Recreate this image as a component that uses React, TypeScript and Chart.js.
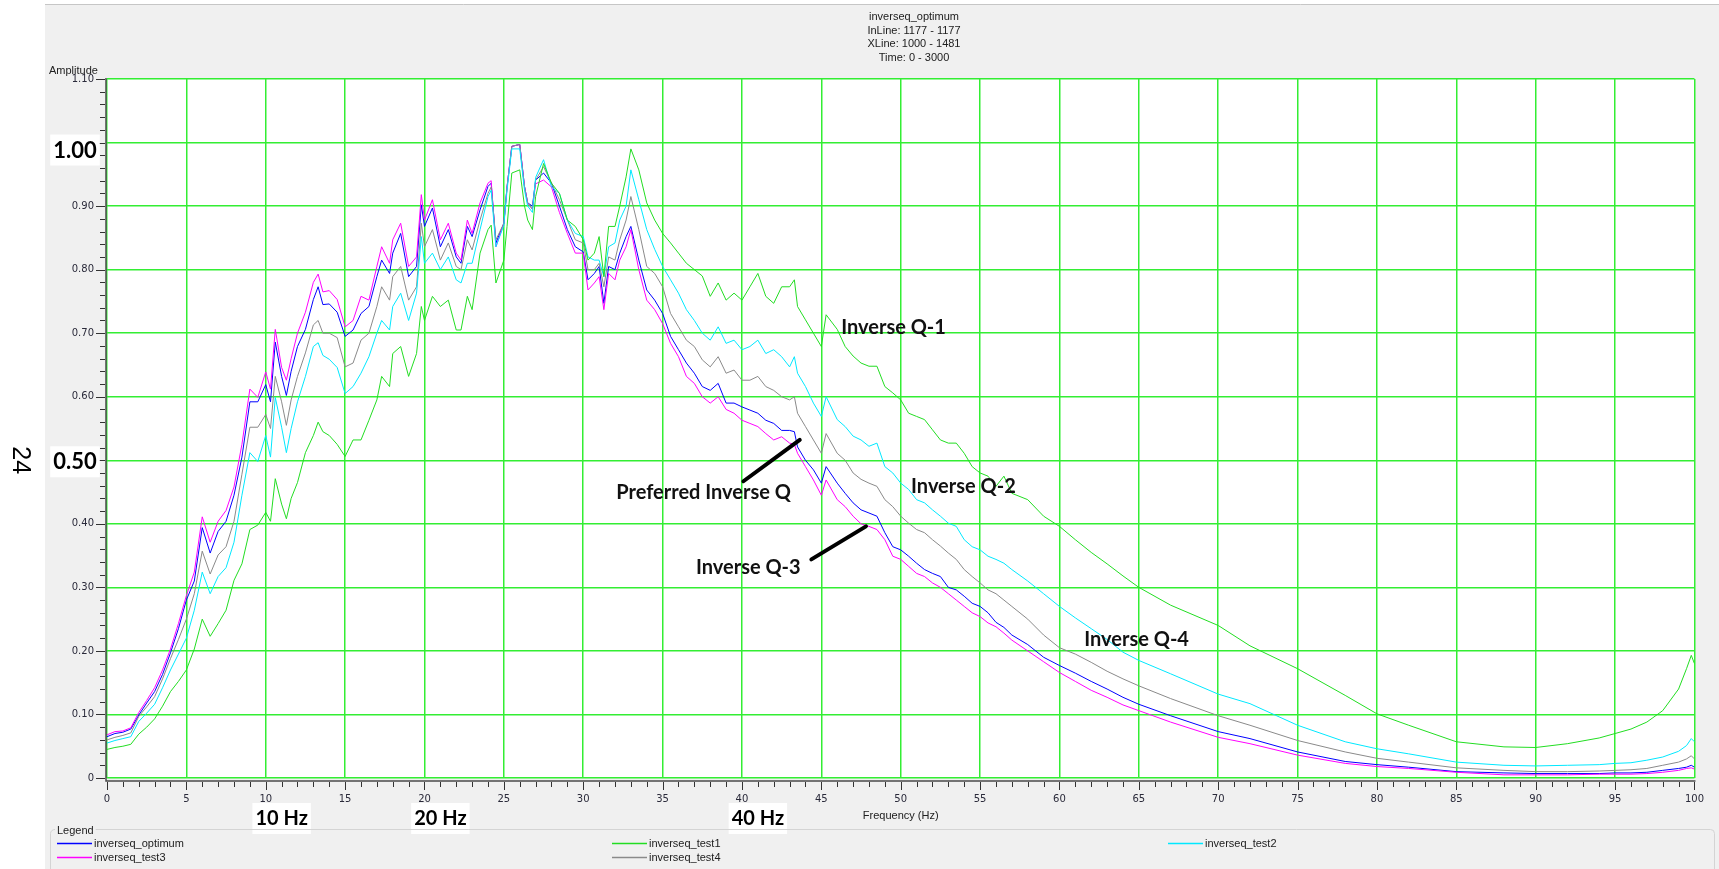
import React, { useEffect, useRef } from 'react';
import { Chart, registerables } from 'chart.js';

Chart.register(...registerables);

// frequency samples (Hz) shared by all five spectra
const frequency = [
  0, 0.5, 1, 1.5, 2, 2.5, 3, 3.5, 4, 4.5,
  5, 5.5, 6, 6.5, 7, 7.5, 8, 8.5, 9, 9.5,
  10, 10.3, 10.6, 11, 11.3, 11.6, 12, 12.5, 13, 13.3,
  13.6, 14, 14.5, 15, 15.5, 16, 16.5, 17, 17.3, 17.8,
  18, 18.5, 19, 19.5, 19.8, 20, 20.5, 21, 21.5, 22,
  22.3, 22.7, 23, 23.5, 24, 24.2, 24.5, 25, 25.2, 25.5,
  26, 26.3, 26.5, 26.8, 27, 27.5, 28, 28.5, 29, 29.5,
  30, 30.3, 30.7, 31, 31.3, 31.6, 32, 32.3, 32.7, 33,
  33.5, 34, 34.5, 35, 35.5, 36, 36.5, 37, 37.5, 38,
  38.5, 39, 39.5, 40, 40.5, 41, 41.5, 42, 42.5, 43,
  43.3, 43.5, 44, 44.5, 45, 45.3, 46, 46.5, 47, 47.5,
  48, 48.5, 49, 49.5, 50, 50.5, 51, 51.5, 52, 52.5,
  53, 53.5, 54, 54.5, 55, 55.5, 56, 56.5, 57, 58,
  59, 60, 61, 62, 63, 64, 65, 67, 70, 72,
  75, 78, 80, 82, 85, 88, 90, 92, 94, 95,
  96, 97, 98, 99, 99.5, 99.8, 100,
];

const optimum = [
  0.065, 0.070, 0.072, 0.077, 0.099, 0.118, 0.136, 0.163, 0.197, 0.235,
  0.280, 0.310, 0.394, 0.354, 0.388, 0.404, 0.445, 0.505, 0.592, 0.592,
  0.619, 0.592, 0.686, 0.632, 0.602, 0.640, 0.679, 0.706, 0.753, 0.773,
  0.745, 0.746, 0.733, 0.695, 0.705, 0.731, 0.742, 0.789, 0.815, 0.794,
  0.826, 0.857, 0.789, 0.805, 0.902, 0.868, 0.897, 0.836, 0.863, 0.820,
  0.810, 0.868, 0.852, 0.894, 0.931, 0.936, 0.842, 0.873, 0.930, 0.994,
  0.997, 0.931, 0.905, 0.900, 0.941, 0.952, 0.936, 0.900, 0.863, 0.836,
  0.828, 0.784, 0.794, 0.805, 0.747, 0.805, 0.800, 0.826, 0.852, 0.868,
  0.815, 0.768, 0.752, 0.731, 0.695, 0.674, 0.653, 0.637, 0.616, 0.610,
  0.621, 0.590, 0.590, 0.584, 0.579, 0.574, 0.563, 0.558, 0.547, 0.547,
  0.545, 0.521, 0.500, 0.485, 0.464, 0.490, 0.464, 0.448, 0.433, 0.422,
  0.417, 0.412, 0.386, 0.364, 0.359, 0.349, 0.338, 0.328, 0.322, 0.317,
  0.300, 0.296, 0.286, 0.275, 0.270, 0.260, 0.245, 0.237, 0.225, 0.210,
  0.190, 0.177, 0.165, 0.152, 0.140, 0.127, 0.116, 0.098, 0.073, 0.062,
  0.041, 0.026, 0.021, 0.017, 0.010, 0.008, 0.007, 0.007, 0.007, 0.008,
  0.008, 0.009, 0.012, 0.015, 0.017, 0.020, 0.017,
];

const test1 = [
  0.045, 0.048, 0.050, 0.053, 0.069, 0.080, 0.093, 0.113, 0.136, 0.152,
  0.170, 0.203, 0.250, 0.223, 0.243, 0.264, 0.311, 0.337, 0.391, 0.398,
  0.418, 0.404, 0.471, 0.431, 0.408, 0.440, 0.465, 0.512, 0.539, 0.560,
  0.545, 0.539, 0.525, 0.506, 0.532, 0.532, 0.563, 0.595, 0.632, 0.616,
  0.668, 0.679, 0.632, 0.668, 0.742, 0.720, 0.758, 0.742, 0.752, 0.705,
  0.705, 0.758, 0.737, 0.826, 0.863, 0.870, 0.779, 0.815, 0.868, 0.952,
  0.957, 0.900, 0.878, 0.863, 0.915, 0.967, 0.936, 0.920, 0.878, 0.868,
  0.847, 0.815, 0.826, 0.852, 0.789, 0.868, 0.868, 0.900, 0.946, 0.990,
  0.957, 0.905, 0.878, 0.857, 0.842, 0.826, 0.810, 0.800, 0.790, 0.758,
  0.779, 0.752, 0.763, 0.752, 0.773, 0.794, 0.758, 0.747, 0.773, 0.773,
  0.784, 0.742, 0.721, 0.700, 0.679, 0.729, 0.706, 0.679, 0.664, 0.653,
  0.648, 0.648, 0.616, 0.606, 0.595, 0.574, 0.569, 0.564, 0.548, 0.532,
  0.527, 0.527, 0.511, 0.490, 0.480, 0.475, 0.459, 0.475, 0.448, 0.438,
  0.412, 0.396, 0.375, 0.355, 0.337, 0.318, 0.300, 0.272, 0.240, 0.208,
  0.172, 0.130, 0.101, 0.083, 0.057, 0.049, 0.048, 0.054, 0.063, 0.070,
  0.077, 0.088, 0.106, 0.140, 0.172, 0.193, 0.180,
];

const test2 = [
  0.055, 0.059, 0.062, 0.065, 0.089, 0.102, 0.116, 0.142, 0.170, 0.195,
  0.220, 0.264, 0.324, 0.290, 0.317, 0.331, 0.371, 0.445, 0.512, 0.498,
  0.539, 0.505, 0.599, 0.552, 0.512, 0.550, 0.592, 0.632, 0.679, 0.685,
  0.665, 0.659, 0.646, 0.605, 0.616, 0.637, 0.663, 0.700, 0.720, 0.705,
  0.742, 0.763, 0.720, 0.763, 0.852, 0.810, 0.826, 0.800, 0.820, 0.784,
  0.779, 0.810, 0.810, 0.863, 0.915, 0.925, 0.836, 0.870, 0.925, 0.990,
  0.990, 0.925, 0.900, 0.890, 0.945, 0.973, 0.930, 0.920, 0.878, 0.857,
  0.852, 0.820, 0.815, 0.815, 0.789, 0.836, 0.842, 0.878, 0.900, 0.957,
  0.910, 0.863, 0.832, 0.805, 0.784, 0.763, 0.737, 0.720, 0.700, 0.689,
  0.710, 0.684, 0.689, 0.674, 0.679, 0.689, 0.668, 0.674, 0.663, 0.647,
  0.663, 0.637, 0.616, 0.590, 0.569, 0.600, 0.564, 0.553, 0.538, 0.532,
  0.522, 0.527, 0.490, 0.480, 0.464, 0.454, 0.438, 0.433, 0.422, 0.412,
  0.401, 0.396, 0.375, 0.364, 0.359, 0.349, 0.344, 0.338, 0.328, 0.310,
  0.290, 0.270, 0.252, 0.235, 0.218, 0.198, 0.185, 0.164, 0.132, 0.117,
  0.083, 0.057, 0.046, 0.038, 0.025, 0.020, 0.019, 0.020, 0.021, 0.023,
  0.024, 0.028, 0.033, 0.042, 0.051, 0.062, 0.057,
];

const test3 = [
  0.068, 0.073, 0.074, 0.079, 0.103, 0.122, 0.142, 0.170, 0.203, 0.243,
  0.287, 0.324, 0.411, 0.371, 0.404, 0.421, 0.458, 0.525, 0.612, 0.599,
  0.639, 0.612, 0.706, 0.646, 0.626, 0.660, 0.700, 0.733, 0.780, 0.793,
  0.765, 0.767, 0.753, 0.710, 0.720, 0.758, 0.752, 0.805, 0.836, 0.810,
  0.847, 0.873, 0.805, 0.820, 0.918, 0.878, 0.910, 0.847, 0.873, 0.826,
  0.815, 0.878, 0.857, 0.905, 0.936, 0.940, 0.836, 0.873, 0.930, 0.994,
  0.997, 0.931, 0.905, 0.895, 0.935, 0.941, 0.930, 0.890, 0.857, 0.826,
  0.826, 0.768, 0.779, 0.789, 0.737, 0.794, 0.784, 0.815, 0.836, 0.863,
  0.800, 0.752, 0.737, 0.715, 0.684, 0.663, 0.632, 0.621, 0.600, 0.590,
  0.600, 0.580, 0.574, 0.563, 0.558, 0.553, 0.542, 0.532, 0.537, 0.527,
  0.525, 0.511, 0.490, 0.469, 0.445, 0.469, 0.438, 0.427, 0.412, 0.400,
  0.396, 0.391, 0.375, 0.349, 0.344, 0.333, 0.322, 0.317, 0.307, 0.300,
  0.290, 0.280, 0.270, 0.260, 0.254, 0.244, 0.238, 0.228, 0.217, 0.200,
  0.183, 0.166, 0.152, 0.138, 0.127, 0.115, 0.106, 0.088, 0.064, 0.054,
  0.036, 0.023, 0.018, 0.015, 0.009, 0.005, 0.005, 0.005, 0.006, 0.006,
  0.006, 0.007, 0.009, 0.012, 0.015, 0.016, 0.014,
];

const test4 = [
  0.060, 0.064, 0.067, 0.071, 0.097, 0.112, 0.128, 0.156, 0.188, 0.218,
  0.250, 0.290, 0.357, 0.321, 0.351, 0.364, 0.404, 0.478, 0.552, 0.552,
  0.572, 0.550, 0.632, 0.592, 0.555, 0.595, 0.632, 0.669, 0.713, 0.720,
  0.700, 0.700, 0.693, 0.647, 0.653, 0.689, 0.700, 0.742, 0.773, 0.752,
  0.789, 0.805, 0.752, 0.773, 0.873, 0.836, 0.863, 0.815, 0.842, 0.805,
  0.800, 0.847, 0.831, 0.878, 0.920, 0.930, 0.847, 0.873, 0.930, 0.994,
  0.997, 0.930, 0.905, 0.895, 0.941, 0.962, 0.936, 0.910, 0.878, 0.847,
  0.842, 0.800, 0.800, 0.810, 0.773, 0.820, 0.815, 0.847, 0.878, 0.915,
  0.863, 0.805, 0.794, 0.773, 0.731, 0.710, 0.689, 0.679, 0.658, 0.647,
  0.663, 0.637, 0.642, 0.626, 0.626, 0.632, 0.616, 0.610, 0.600, 0.595,
  0.600, 0.574, 0.553, 0.532, 0.511, 0.542, 0.511, 0.500, 0.480, 0.470,
  0.464, 0.459, 0.438, 0.427, 0.412, 0.401, 0.391, 0.386, 0.375, 0.365,
  0.354, 0.344, 0.328, 0.317, 0.307, 0.296, 0.290, 0.280, 0.270, 0.250,
  0.225, 0.205, 0.195, 0.182, 0.168, 0.156, 0.145, 0.125, 0.098, 0.083,
  0.059, 0.041, 0.031, 0.025, 0.016, 0.012, 0.010, 0.010, 0.011, 0.012,
  0.013, 0.015, 0.020, 0.025, 0.030, 0.035, 0.030,
];

const titleLines = ['inverseq_optimum', 'InLine: 1177 - 1177', 'XLine: 1000 - 1481', 'Time: 0 - 3000'];

// legend columns as in the original viewer: optimum/test3, test1/test4, test2
const series = [
  { label: 'inverseq_test1', data: test1, color: '#22dd22', col: 1, row: 0 },
  { label: 'inverseq_test2', data: test2, color: '#00e8ff', col: 2, row: 0 },
  { label: 'inverseq_test4', data: test4, color: '#8a8a8a', col: 1, row: 1 },
  { label: 'inverseq_test3', data: test3, color: '#ff00ff', col: 0, row: 1 },
  { label: 'inverseq_optimum', data: optimum, color: '#0000ff', col: 0, row: 0 },
];

// hand-written notes on the plot (x in Hz, y in amplitude)
const notes = [
  { text: 'Inverse Q-1', x: 46.25, y: 0.709 },
  { text: 'Inverse Q-2', x: 50.65, y: 0.459 },
  { text: 'Preferred Inverse Q', x: 32.08, y: 0.449 },
  { text: 'Inverse Q-3', x: 37.1, y: 0.331 },
  { text: 'Inverse Q-4', x: 61.56, y: 0.218 },
];
const pointers = [
  { x1: 40.09, y1: 0.467, x2: 43.64, y2: 0.532 },
  { x1: 44.37, y1: 0.344, x2: 47.81, y2: 0.396 },
];
const hzNotes = [
  { text: '10 Hz', x: 11 },
  { text: '20 Hz', x: 21 },
  { text: '40 Hz', x: 41 },
];
const boldTicks = [1.0, 0.5];

const GRID = '#33ee33';
const SMALL = '11px "Liberation Sans", Arial, sans-serif';

function boxedText(ctx, text, cx, cy, font) {
  ctx.font = font;
  const w = ctx.measureText(text).width;
  ctx.fillStyle = '#ffffff';
  ctx.fillRect(cx - w / 2 - 3, cy - 15, w + 6, 31);
  ctx.fillStyle = '#000000';
  ctx.textAlign = 'center';
  ctx.textBaseline = 'middle';
  ctx.fillText(text, cx, cy + 1);
}

const decorPlugin = {
  id: 'decor',
  beforeDraw(chart) {
    const { ctx, width, height, chartArea: a } = chart;
    ctx.save();
    ctx.fillStyle = '#ffffff';
    ctx.fillRect(0, 0, width, height);
    ctx.fillStyle = '#f0f0f0';
    ctx.fillRect(45, 4, width - 45, height - 4);
    ctx.strokeStyle = '#c6c6c6';
    ctx.lineWidth = 1;
    ctx.beginPath();
    ctx.moveTo(45, 4.5);
    ctx.lineTo(width, 4.5);
    ctx.stroke();
    ctx.fillStyle = '#ffffff';
    ctx.fillRect(a.left, a.top, a.right - a.left, a.bottom - a.top);
    ctx.restore();
  },
  afterDraw(chart) {
    const { ctx, chartArea: a, scales } = chart;
    const xs = scales.x;
    const ys = scales.y;
    ctx.save();

    // axis lines and tick marks
    ctx.strokeStyle = '#4a4a4a';
    ctx.lineWidth = 1.5;
    ctx.beginPath();
    ctx.moveTo(a.left - 1, a.top - 1);
    ctx.lineTo(a.left - 1, a.bottom + 3);
    ctx.lineTo(a.right + 1, a.bottom + 3);
    ctx.stroke();
    ctx.lineWidth = 1;
    ctx.strokeStyle = '#333333';
    for (let i = 0; i <= 55; i++) {
      const y = Math.round(ys.getPixelForValue(i * 0.02)) + 0.5;
      const len = i % 5 === 0 ? 9 : 5;
      ctx.beginPath();
      ctx.moveTo(a.left - 2 - len, y);
      ctx.lineTo(a.left - 2, y);
      ctx.stroke();
    }
    for (let i = 0; i <= 100; i++) {
      const x = Math.round(xs.getPixelForValue(i)) + 0.5;
      const len = i % 5 === 0 ? 8 : 5;
      ctx.beginPath();
      ctx.moveTo(x, a.bottom + 4);
      ctx.lineTo(x, a.bottom + 4 + len);
      ctx.stroke();
    }

    // title block
    ctx.fillStyle = '#202020';
    ctx.font = SMALL;
    ctx.textAlign = 'center';
    ctx.textBaseline = 'middle';
    titleLines.forEach((t, i) => ctx.fillText(t, 914, 17 + i * 13.6));

    // axis titles
    ctx.textAlign = 'left';
    ctx.fillText('Amplitude', 49, 71);
    ctx.textAlign = 'center';
    ctx.fillText('Frequency (Hz)', (a.left + a.right) / 2, 816);

    // enlarged tick labels pasted on the y axis
    boldTicks.forEach((v) => {
      const off = v === 1 ? 7 : 1;
      boxedText(ctx, v.toFixed(2), 75, ys.getPixelForValue(v) + off, 'bold 22px Lato, sans-serif');
    });

    // Hz labels under the x axis
    hzNotes.forEach((n) => {
      boxedText(ctx, n.text, xs.getPixelForValue(n.x), 818, 'bold 20px Lato, sans-serif');
    });

    // rotated page number on the left
    ctx.save();
    ctx.translate(20, ys.getPixelForValue(0.5));
    ctx.rotate(Math.PI / 2);
    ctx.fillStyle = '#000000';
    ctx.font = '25px "Liberation Sans", Arial, sans-serif';
    ctx.textAlign = 'center';
    ctx.textBaseline = 'middle';
    ctx.fillText('24', 0, 0);
    ctx.restore();

    // notes and pointer lines
    ctx.strokeStyle = '#000000';
    ctx.lineWidth = 4;
    ctx.lineCap = 'round';
    pointers.forEach((p) => {
      ctx.beginPath();
      ctx.moveTo(xs.getPixelForValue(p.x1), ys.getPixelForValue(p.y1));
      ctx.lineTo(xs.getPixelForValue(p.x2), ys.getPixelForValue(p.y2));
      ctx.stroke();
    });
    ctx.font = 'bold 20px Lato, sans-serif';
    ctx.fillStyle = '#111111';
    ctx.textAlign = 'left';
    ctx.textBaseline = 'middle';
    notes.forEach((n) => ctx.fillText(n.text, xs.getPixelForValue(n.x), ys.getPixelForValue(n.y)));

    // legend group box
    ctx.strokeStyle = '#d4d4d4';
    ctx.lineWidth = 1;
    ctx.beginPath();
    ctx.roundRect(50.5, 829.5, 1664, 60, 4);
    ctx.stroke();
    ctx.font = SMALL;
    const lw = ctx.measureText('Legend').width;
    ctx.fillStyle = '#f0f0f0';
    ctx.fillRect(55, 826, lw + 4, 8);
    ctx.fillStyle = '#202020';
    ctx.textAlign = 'left';
    ctx.textBaseline = 'middle';
    ctx.fillText('Legend', 57, 831);
    const colX = [57, 612, 1168];
    series.forEach((s) => {
      const x = colX[s.col];
      const y = 843 + s.row * 14;
      ctx.strokeStyle = s.color;
      ctx.lineWidth = 1.5;
      ctx.lineCap = 'butt';
      ctx.beginPath();
      ctx.moveTo(x, y + 0.5);
      ctx.lineTo(x + 35, y + 0.5);
      ctx.stroke();
      ctx.fillStyle = '#202020';
      ctx.fillText(s.label, x + 37, y + 1);
    });
    ctx.restore();
  },
};

export default function App() {
  const canvasRef = useRef(null);

  useEffect(() => {
    if (!canvasRef.current) return;
    const chart = new Chart(canvasRef.current, {
      type: 'line',
      data: {
        datasets: series.map((s) => ({
          label: s.label,
          data: frequency.map((f, i) => ({ x: f, y: s.data[i] })),
          borderColor: s.color,
          backgroundColor: s.color,
          borderWidth: 1,
          pointRadius: 0,
          tension: 0,
        })),
      },
      options: {
        animation: false,
        responsive: true,
        maintainAspectRatio: false,
        layout: { padding: { top: 79, right: 13, left: 0, bottom: 0 } },
        plugins: {
          legend: { display: false },
          title: { display: false },
          tooltip: { enabled: false },
        },
        scales: {
          x: {
            type: 'linear',
            min: 0,
            max: 100,
            afterFit: (s) => {
              s.height = 91;
            },
            grid: { color: GRID, lineWidth: 1.5, drawTicks: false },
            border: { display: false },
            ticks: {
              stepSize: 5,
              padding: 15,
              maxRotation: 0,
              autoSkip: false,
              color: '#2a2a3a',
              font: { family: 'DejaVu Sans', size: 10 },
            },
          },
          y: {
            min: 0,
            max: 1.1,
            afterFit: (s) => {
              s.width = 107;
            },
            grid: { color: GRID, lineWidth: 1.5, drawTicks: false },
            border: { display: false },
            ticks: {
              stepSize: 0.1,
              padding: 13,
              color: '#2a2a3a',
              font: { family: 'DejaVu Sans', size: 10 },
              callback: (v) => {
                const n = Number(v);
                if (boldTicks.some((b) => Math.abs(b - n) < 1e-6)) return '';
                return n < 1e-6 ? '0' : n.toFixed(2);
              },
            },
          },
        },
      },
      plugins: [decorPlugin],
    });
    return () => chart.destroy();
  }, []);

  return (
    <div style={{ position: 'absolute', left: 0, top: 0, width: 1719, height: 869 }}>
      <canvas ref={canvasRef}></canvas>
    </div>
  );
}
